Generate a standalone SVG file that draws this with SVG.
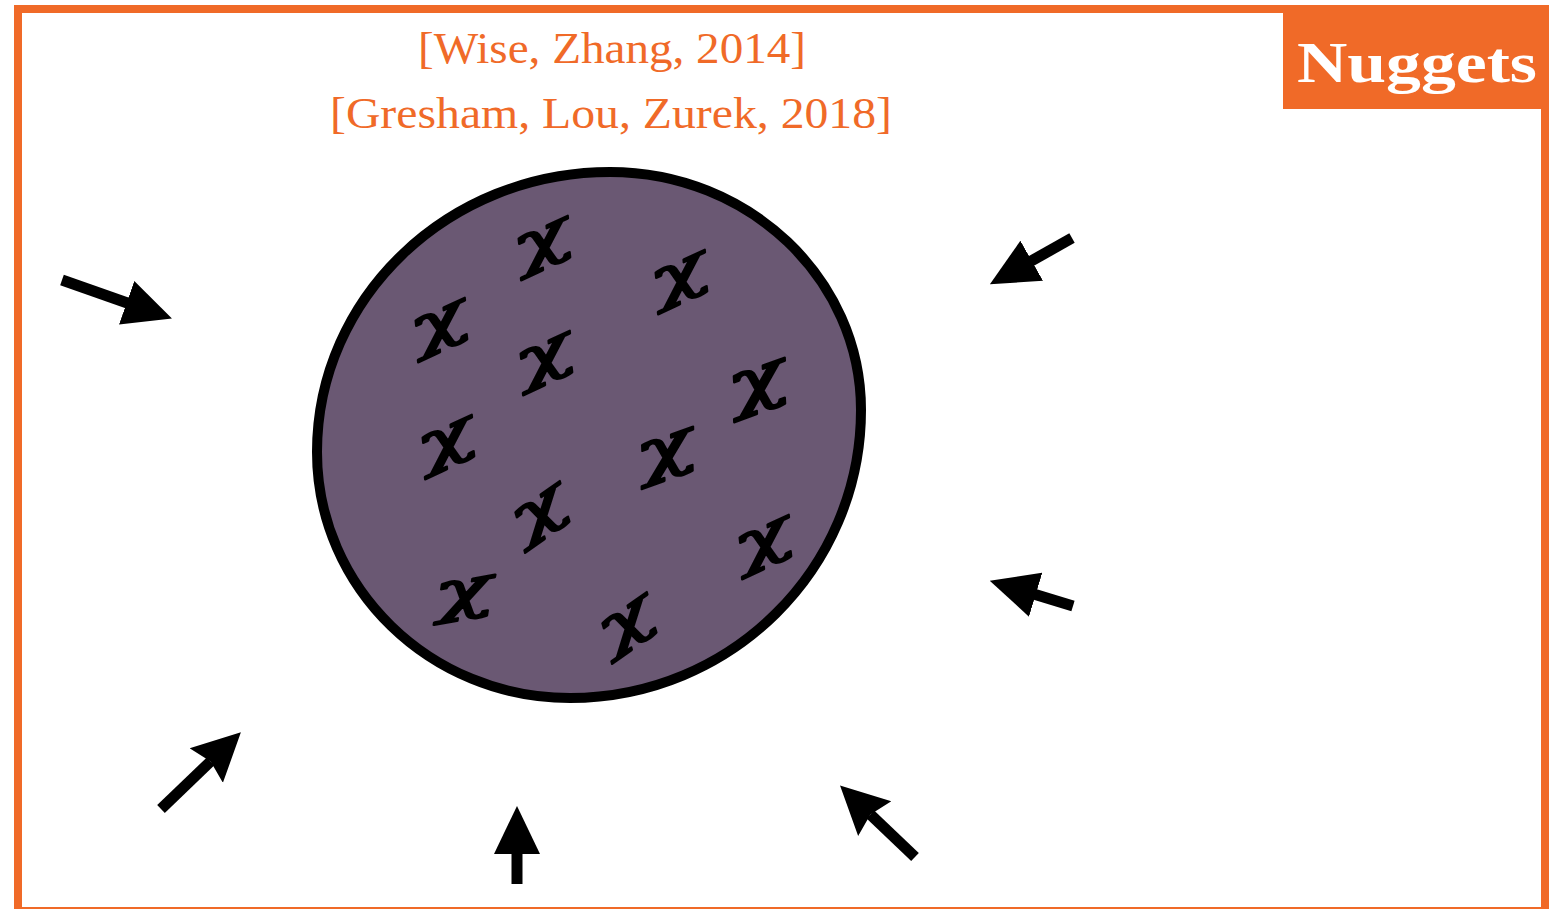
<svg xmlns="http://www.w3.org/2000/svg" width="1561" height="909" viewBox="0 0 1561 909">
<style>
.frame{fill:none;stroke:#F06A28;stroke-width:8}
.cite{font-family:"Liberation Serif","DejaVu Serif",serif;font-size:45px;fill:#F06A28;text-anchor:middle}
.tag{font-family:"Liberation Serif","DejaVu Serif",serif;font-size:58px;font-weight:bold;fill:#ffffff}
.chi{font-family:"DejaVu Serif",serif;font-style:italic;font-size:60px;fill:#000;stroke:#000;stroke-width:2.2;stroke-linejoin:round;text-anchor:middle}
.arrow{stroke:#000;stroke-width:11;fill:none}
</style>
<defs>
<marker id="head" markerUnits="userSpaceOnUse" markerWidth="48" markerHeight="48" viewBox="0 0 48 48" refX="3" refY="24" orient="auto">
<path d="M0,1 L48,24 L0,47 Z" fill="#000"/>
</marker>
<marker id="headN" markerUnits="userSpaceOnUse" markerWidth="48" markerHeight="52" viewBox="0 0 48 52" refX="6" refY="26" orient="auto">
<path d="M0,2 L48,26 L0,50 L6,26 Z" fill="#000"/>
</marker>
</defs>
<rect width="1561" height="909" fill="#ffffff"/>
<rect class="frame" x="18" y="9" width="1527" height="902"/>
<g id="tag">
<rect x="1283" y="5" width="266" height="104" fill="#F06A28"/>
<text class="tag" x="1297" y="82" textLength="240" lengthAdjust="spacingAndGlyphs">Nuggets</text>
</g>
<g id="citations">
<text class="cite" x="612" y="63" textLength="388" lengthAdjust="spacingAndGlyphs">[Wise, Zhang, 2014]</text>
<text class="cite" x="611" y="128" textLength="562" lengthAdjust="spacingAndGlyphs">[Gresham, Lou, Zurek, 2018]</text>
</g>
<g id="nugget">
<path d="M610,172 C748.6,172 861,278.6 861,410 C861,569.1 730.7,698 570,698 C430.3,698 317,587.9 317,452 C317,297.4 448.2,172 610,172 Z" fill="#6A5873" stroke="#000" stroke-width="10"/>
<g id="particles">
<text class="chi" transform="translate(545 248) rotate(-25) scale(1.6 0.9)" y="9">χ</text>
<text class="chi" transform="translate(682 282) rotate(-25) scale(1.6 0.9)" y="9">χ</text>
<text class="chi" transform="translate(442 330) rotate(-25) scale(1.6 0.9)" y="9">χ</text>
<text class="chi" transform="translate(547 363) rotate(-25) scale(1.6 0.9)" y="9">χ</text>
<text class="chi" transform="translate(760 390) rotate(-20) scale(1.6 1)" y="9">χ</text>
<text class="chi" transform="translate(449 447) rotate(-25) scale(1.6 0.9)" y="9">χ</text>
<text class="chi" transform="translate(668 458) rotate(-20) scale(1.6 0.95)" y="9">χ</text>
<text class="chi" transform="translate(543 517) rotate(-35) scale(1.6 0.9)" y="9">χ</text>
<text class="chi" transform="translate(766 547) rotate(-25) scale(1.6 0.9)" y="9">χ</text>
<text class="chi" transform="translate(465 600) rotate(-10) scale(1.6 0.9)" y="9">χ</text>
<text class="chi" transform="translate(630 628) rotate(-35) scale(1.6 0.9)" y="9">χ</text>
</g>
</g>
<g id="connectors">
<line class="arrow" x1="62" y1="280" x2="129.5" y2="303.7" marker-end="url(#head)"/>
<line class="arrow" x1="1072" y1="238" x2="1029.1" y2="262.2" marker-end="url(#head)"/>
<line class="arrow" x1="1073" y1="606" x2="1032.8" y2="593.8" marker-end="url(#head)"/>
<line class="arrow" x1="161" y1="809" x2="210.6" y2="761.4" marker-end="url(#headN)"/>
<line class="arrow" x1="517" y1="884" x2="517" y2="851" marker-end="url(#head)"/>
<line class="arrow" x1="915" y1="857" x2="870.4" y2="814.4" marker-end="url(#headN)"/>
</g>
</svg>
